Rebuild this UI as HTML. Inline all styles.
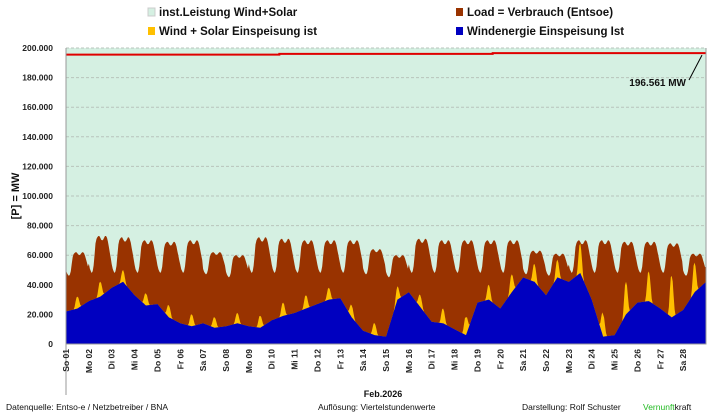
<!DOCTYPE html>
<html><head><meta charset="utf-8"><style>
html,body{margin:0;padding:0;background:#fff;}
svg{display:block;font-family:"Liberation Sans",sans-serif;}
</style></head><body>
<svg id="c" width="709" height="414" viewBox="0 0 709 414"></svg>
<script>
const dayLabels=["So 01","Mo 02","Di 03","Mi 04","Do 05","Fr 06","Sa 07","So 08","Mo 09","Di 10","Mi 11","Do 12","Fr 13","Sa 14","So 15","Mo 16","Di 17","Mi 18","Do 19","Fr 20","Sa 21","So 22","Mo 23","Di 24","Mi 25","Do 26","Fr 27","Sa 28"];
const yTicks=[0,20000,40000,60000,80000,100000,120000,140000,160000,180000,200000];
const yTickLabels=["0","20.000","40.000","60.000","80.000","100.000","120.000","140.000","160.000","180.000","200.000"];
const loadPeak=[62,73,72,70,69,70,62,60,72,71,70,70,70,64,60,71,70,70,70,70,63,61,70,70,69,69,68,61];
const loadTrough=[46,48,48,48,48,48,47,45,48,48,48,48,48,47,45,48,48,48,48,48,47,46,48,48,48,48,48,46];
const loadProfile=[0.25,0.12,0.05,0,0.05,0.2,0.5,0.8,0.92,0.97,1,1,0.95,0.9,0.88,0.9,0.95,1,1,0.95,0.85,0.7,0.55,0.4];
const windHalfDay=[22,24,29,32,38,42,33,26,27,18,14,12,14,11,12,14,12,11,16,19,21,24,27,30,31,18,9,6,5,30,35,25,15,14,10,6,28,30,24,35,45,42,33,45,42,48,30,5,6,20,28,29,24,18,23,35,42];
const solarPeak=[8,10,8,8,8,8,7,7,8,9,9,8,8,8,9,8,10,12,10,12,12,12,20,15,22,20,28,20];
const solarProfile=[0,0,0,0,0,0,0,0,0,0.2,0.6,0.95,1,0.85,0.5,0.15,0,0,0,0,0,0,0,0];
const capacity=[195500,196000,196561];
const capacityLabel="196.561 MW";

const NS="http://www.w3.org/2000/svg";
const svg=document.getElementById('c');
const X0=66,X1=706,Y0=344,Y1=48,DAYS=28;
const xs=t=>X0+(X1-X0)*t/DAYS;
const ys=v=>Y0-(Y0-Y1)*v/200000;
function el(tag,attrs,parent){const e=document.createElementNS(NS,tag);for(const k in attrs)e.setAttribute(k,attrs[k]);(parent||svg).appendChild(e);return e;}

const bg=el('rect',{x:X0,y:Y1,width:X1-X0,height:Y0-Y1,fill:'#d5f0e2'});



yTicks.forEach((v,i)=>{
  if(i>0){const g=el('line',{x1:X0,x2:X1,y1:ys(v),y2:ys(v),stroke:'#b8c4bc','stroke-dasharray':'3,2','stroke-width':1});
  
  }
  const t=el('text',{x:53,y:ys(v)+3,'text-anchor':'end','font-size':'8.5','font-weight':'bold',fill:'#222'});
  t.textContent=yTickLabels[i];
  
  
});

const N=DAYS*24;
const loadPts=[],ysPts=[],wPts=[];
function windAt(t){const i=Math.min(Math.floor(t*2),windHalfDay.length-2);const f=t*2-i;return windHalfDay[i]*(1-f)+windHalfDay[i+1]*f;}
for(let h=0;h<=N;h++){
  const d=Math.min(Math.floor(h/24),DAYS-1),hr=h===N?23:h%24,t=h/24;
  const L=(loadTrough[d]+(loadPeak[d]-loadTrough[d])*loadProfile[hr])*1000;
  const W=windAt(t)*1000;
  const S=solarPeak[d]*solarProfile[hr]*1000;
  loadPts.push([xs(t),ys(L)]);wPts.push([xs(t),ys(W)]);ysPts.push([xs(t),ys(W+S)]);
}
function area(pts,fill,name){
  let d='M'+xs(0)+','+Y0;pts.forEach(p=>d+='L'+p[0].toFixed(1)+','+p[1].toFixed(1));d+='L'+xs(DAYS)+','+Y0+'Z';
  const p=el('path',{d:d,fill:fill});
  
  
}
area(loadPts,'#993300','load-area');
area(ysPts,'#ffc000','wind-solar-area');
area(wPts,'#0000c0','wind-area');

let cd='';capacity.forEach((v,i)=>{const t0=i*DAYS/capacity.length,t1=(i+1)*DAYS/capacity.length;cd+=(i?'L':'M')+xs(t0)+','+ys(v)+'L'+xs(t1)+','+ys(v);});
const cl=el('path',{d:cd,stroke:'#e00000','stroke-width':2,fill:'none'});


const ll=el('line',{x1:689,y1:80,x2:702,y2:ys(capacity[2])+2,stroke:'#000','stroke-width':1});


const cv=el('text',{x:686,y:86,'text-anchor':'end','font-size':'10','font-weight':'bold',fill:'#111'});
cv.textContent=capacityLabel;



const ax=el('path',{d:`M${X0},${Y1}V${Y0}H${X1}V${Y1}`,stroke:'#999',fill:'none','stroke-width':1});


el('line',{x1:X0,x2:X0,y1:Y0,y2:395,stroke:'#999'});

dayLabels.forEach((lab,i)=>{
  const x=xs(i)+3;
  const t=el('text',{x:0,y:0,transform:`translate(${x},349) rotate(-90)`,'text-anchor':'end','font-size':'8.5','font-weight':'bold',fill:'#222'});
  t.textContent=lab;
  
  
});

function txt(s,x,y,size,opts,name){const t=el('text',Object.assign({x:x,y:y,'font-size':size,fill:'#111'},opts||{}));t.textContent=s;

return t;}
txt('Feb.2026',383,397,9,{'text-anchor':'middle','font-weight':'bold'},'x-axis-title');
txt('[P] = MW',0,0,11,{transform:'translate(19,196) rotate(-90)','text-anchor':'middle','font-weight':'bold'},'y-axis-title');
txt('Datenquelle:  Entso-e  / Netzbetreiber / BNA',6,410,8.5,{},'source-note');
txt('Auflösung: Viertelstundenwerte',318,410,8.5,{},'resolution-note');
txt('Darstellung:  Rolf Schuster  ',522,410,8.5,{},'author-note');
const vk=el('text',{x:643,y:410,'font-size':'8.5',fill:'#22bb22'});vk.innerHTML='Vernunft<tspan fill="#111">kraft</tspan>';



const legend=[['#d5f0e2','inst.Leistung Wind+Solar',148,16],['#993300','Load =  Verbrauch (Entsoe)',456,16],['#ffc000','Wind + Solar Einspeisung ist',148,35],['#0000c0','Windenergie Einspeisung Ist',456,35]];
legend.forEach(l=>{
  const g=el('g',{});
  
  
  el('rect',{x:l[2],y:l[3]-8,width:7,height:8,fill:l[0],stroke:l[0]==='#d5f0e2'?'#ccc':'none'},g);
  const t=el('text',{x:l[2]+11,y:l[3],'font-size':'11.5','font-weight':'bold',fill:'#111'},g);t.textContent=l[1];
});
</script>
</body></html>
